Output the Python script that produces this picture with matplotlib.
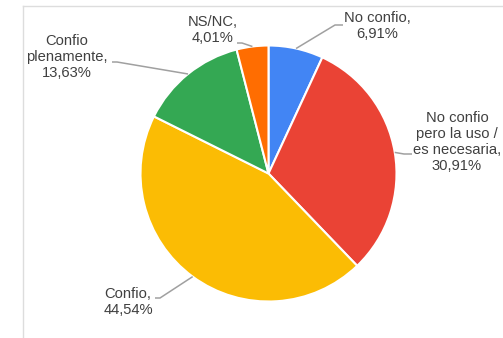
import numpy as np
import matplotlib
matplotlib.use("Agg")
import matplotlib.pyplot as plt

# survey answers, clockwise from 12 o'clock
labels = ["No confio", "No confio\npero la uso /\nes necesaria", "Confio",
          "Confio\nplenamente", "NS/NC"]
shares = [6.91, 30.91, 44.54, 13.63, 4.01]
colors = ["#4285F4", "#EA4335", "#FBBC04", "#34A853", "#FF6D01"]

W, H = 503, 338

def up(y):
    # pixel row (from top) -> data y (from bottom)
    return H - y

fig = plt.figure(figsize=(W / 100, H / 100), dpi=100)
ax = fig.add_axes([0, 0, 1, 1])

cx, cy, r = 268.5, up(173.5), 128
wedges, _ = ax.pie(shares, colors=colors, startangle=90, counterclock=False,
                   center=(cx, cy), radius=r,
                   wedgeprops=dict(edgecolor="white", linewidth=1.5))
ax.set_xlim(0, W)
ax.set_ylim(0, H)
ax.axis("off")

# label text centre, elbow and line end (pixels from top-left)
layout = [
    ((377, 26), (335, 25), (343, 25)),
    ((457, 142), (404, 154), (412, 154)),
    ((128, 302), (160, 298), (155, 298)),
    ((67, 57), (117, 62), (112, 62)),
    ((213, 30), (242, 43), (237, 43)),
]

for w, lab, val, (txt, elbow, end) in zip(wedges, labels, shares, layout):
    mid = np.deg2rad((w.theta1 + w.theta2) / 2)
    ex, ey = cx + r * np.cos(mid), cy + r * np.sin(mid)
    ax.plot([ex, elbow[0], end[0]], [ey, up(elbow[1]), up(end[1])],
            color="#a0a0a0", lw=1.1, solid_capstyle="butt")
    s = "%s,\n%s%%" % (lab, ("%.2f" % val).replace(".", ","))
    ax.text(txt[0], up(txt[1]), s, ha="center", va="center",
            fontsize=10.6, family="Liberation Sans", color="#404040",
            linespacing=1.17)

# light frame at top and left
ax.plot([23, W], [up(6), up(6)], color="#dddddd", lw=1)
ax.plot([23, 23], [up(6), 0], color="#dddddd", lw=1)

fig.savefig("out.png", dpi=100)
